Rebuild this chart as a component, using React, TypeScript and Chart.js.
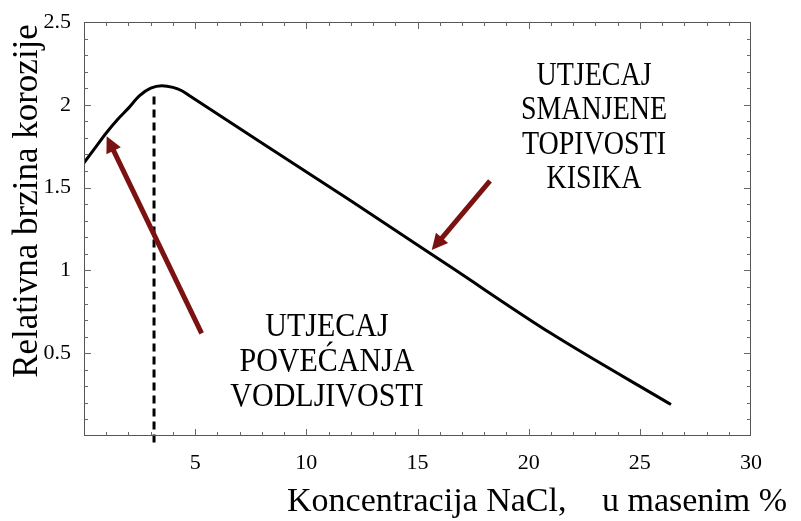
import React, { useEffect, useRef } from "react";
import { Chart, registerables } from "chart.js";

Chart.register(...registerables);

// Data
const curveX = [0, 0.5, 1, 1.5, 2, 2.5, 3, 3.5, 4, 4.4, 4.8, 8, 12, 16.5, 21, 26.4];
const curveY = [1.65, 1.74, 1.83, 1.91, 1.98, 2.055, 2.1, 2.115, 2.105, 2.085, 2.05, 1.77, 1.42, 1.02, 0.62, 0.19];
const dashX = [3.15, 3.15];
const dashY = [-0.04, 2.07];
// arrows: [tailX, tailY, tipX, tipY]
const arrow1 = [5.29, 0.62, 1.02, 1.81];
const arrow2 = [18.26, 1.54, 15.64, 1.123];
const xTickValues = [5, 10, 15, 20, 25, 30];
const yTickValues = [0.5, 1, 1.5, 2, 2.5];
const labelRight = ["UTJECAJ", "SMANJENE", "TOPIVOSTI", "KISIKA"];
const labelLeft = ["UTJECAJ", "POVEĆANJA", "VODLJIVOSTI"];
const xTitleA = "Koncentracija NaCl,";
const xTitleB = "u masenim %";
const yTitle = "Relativna brzina korozije";

const SERIF = '"Liberation Serif", "Times New Roman", serif';
const ARROW_COLOR = "#7a1212";

function drawText(ctx: CanvasRenderingContext2D, t: string, x: number, y: number, size: number, sy: number, align: CanvasTextAlign) {
  ctx.save();
  ctx.translate(x, y);
  ctx.scale(1, sy);
  ctx.font = `${size}px ${SERIF}`;
  ctx.textAlign = align;
  ctx.textBaseline = "middle";
  ctx.fillText(t, 0, 0);
  ctx.restore();
}

const overlay = {
  id: "overlay",
  afterDatasetsDraw(chart: any) {
    const { ctx, chartArea: a, scales } = chart;
    const xs = scales.x;
    const ys = scales.y;
    ctx.save();
    // frame
    ctx.strokeStyle = "#555";
    ctx.lineWidth = 1;
    ctx.strokeRect(a.left + 0.5, a.top + 0.5, a.right - a.left - 1, a.bottom - a.top - 1);
    // ticks
    ctx.strokeStyle = "#666";
    ctx.beginPath();
    for (let i = 1; i < 30; i++) {
      const px = Math.round(xs.getPixelForValue(i)) + 0.5;
      const len = i % 5 === 0 ? 7 : 4;
      ctx.moveTo(px, a.bottom);
      ctx.lineTo(px, a.bottom - len);
      ctx.moveTo(px, a.top);
      ctx.lineTo(px, a.top + len);
    }
    for (let j = 1; j < 25; j++) {
      const py = Math.round(ys.getPixelForValue(j / 10)) + 0.5;
      const len = j % 5 === 0 ? 7 : 4;
      ctx.moveTo(a.left, py);
      ctx.lineTo(a.left + len, py);
      ctx.moveTo(a.right, py);
      ctx.lineTo(a.right - len, py);
    }
    ctx.stroke();

    // arrows
    const drawArrow = (arr: number[]) => {
      const x1 = xs.getPixelForValue(arr[0]);
      const y1 = ys.getPixelForValue(arr[1]);
      const x2 = xs.getPixelForValue(arr[2]);
      const y2 = ys.getPixelForValue(arr[3]);
      const ang = Math.atan2(y2 - y1, x2 - x1);
      const headLen = 16;
      const headW = 8;
      const bx = x2 - headLen * Math.cos(ang);
      const by = y2 - headLen * Math.sin(ang);
      ctx.strokeStyle = ARROW_COLOR;
      ctx.fillStyle = ARROW_COLOR;
      ctx.lineWidth = 5;
      ctx.lineCap = "butt";
      ctx.beginPath();
      ctx.moveTo(x1, y1);
      ctx.lineTo(bx + 2 * Math.cos(ang), by + 2 * Math.sin(ang));
      ctx.stroke();
      ctx.beginPath();
      ctx.moveTo(x2, y2);
      ctx.lineTo(bx + headW * Math.sin(ang), by - headW * Math.cos(ang));
      ctx.lineTo(bx - headW * Math.sin(ang), by + headW * Math.cos(ang));
      ctx.closePath();
      ctx.fill();
    };
    drawArrow(arrow1);
    drawArrow(arrow2);

    // annotation texts
    ctx.fillStyle = "#000";
    labelRight.forEach((t, i) => drawText(ctx, t, 594, 76 + i * 34.5, 28, 1.17, "center"));
    labelLeft.forEach((t, i) => drawText(ctx, t, 327, 327 + i * 35, 30, 1.15, "center"));

    // axis titles
    ctx.font = `34px ${SERIF}`;
    ctx.textAlign = "left";
    ctx.textBaseline = "alphabetic";
    ctx.fillText(xTitleA, 287, 511);
    ctx.fillText(xTitleB, 602, 511);

    ctx.save();
    ctx.translate(37, 201);
    ctx.rotate(-Math.PI / 2);
    ctx.textAlign = "center";
    ctx.textBaseline = "alphabetic";
    ctx.font = `35px ${SERIF}`;
    ctx.fillText(yTitle, 0, 0);
    ctx.restore();

    ctx.restore();
  },
};

export default function App() {
  const ref = useRef<HTMLCanvasElement>(null);
  useEffect(() => {
    document.body.style.margin = "0";
    const curve = curveX.map((x, i) => ({ x, y: curveY[i] }));
    const dash = dashX.map((x, i) => ({ x, y: dashY[i] }));
    const chart = new Chart(ref.current!, {
      type: "line",
      data: {
        datasets: [
          {
            data: curve,
            borderColor: "#000",
            borderWidth: 3,
            pointRadius: 0,
            cubicInterpolationMode: "monotone",
            fill: false,
          } as any,
          {
            data: dash,
            borderColor: "#000",
            borderWidth: 3,
            borderDash: [8, 5],
            pointRadius: 0,
            fill: false,
            clip: false,
          } as any,
        ],
      },
      options: {
        responsive: false,
        animation: false,
        layout: { padding: { top: 22, right: 50, left: 0, bottom: 0 } },
        plugins: { legend: { display: false }, tooltip: { enabled: false } },
        scales: {
          x: {
            type: "linear",
            min: 0,
            max: 30,
            grid: { display: false },
            border: { display: false },
            afterFit: (s: any) => {
              s.height = 85;
            },
            afterBuildTicks: (s: any) => {
              s.ticks = xTickValues.map((v) => ({ value: v }));
            },
            ticks: {
              color: "#000",
              padding: 6,
              maxRotation: 0,
              font: { family: SERIF, size: 22 },
              callback: (v: any) => String(v),
            },
          },
          y: {
            type: "linear",
            min: 0,
            max: 2.5,
            grid: { display: false },
            border: { display: false },
            afterFit: (s: any) => {
              s.width = 84;
            },
            afterBuildTicks: (s: any) => {
              s.ticks = yTickValues.map((v) => ({ value: v }));
            },
            ticks: {
              color: "#000",
              padding: 5,
              font: { family: SERIF, size: 22 },
              callback: (v: any) => String(v),
            },
          },
        },
      },
      plugins: [overlay],
    });
    return () => chart.destroy();
  }, []);
  return <canvas ref={ref} width={801} height={521} style={{ display: "block" }} />;
}
